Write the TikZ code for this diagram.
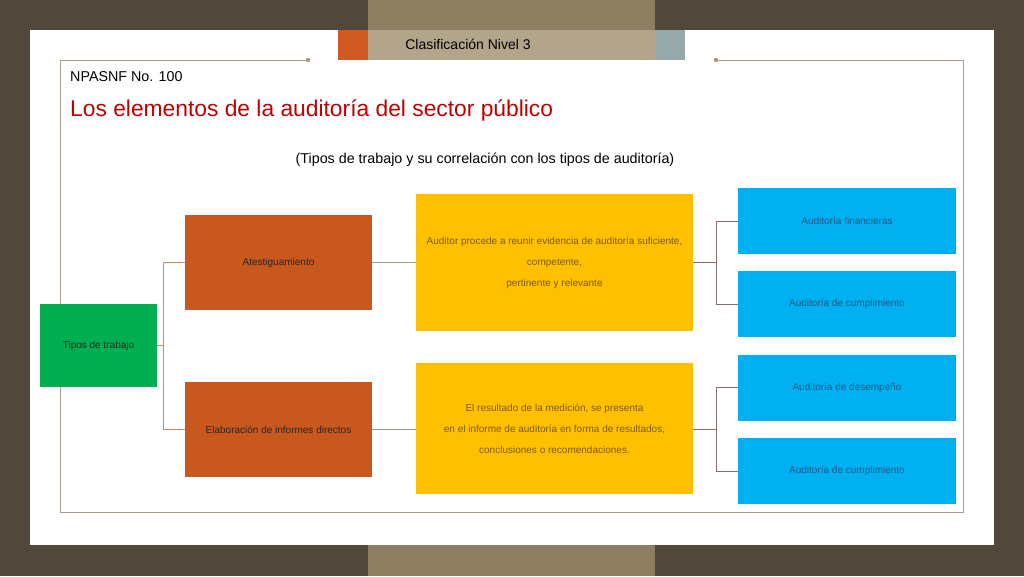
\documentclass[tikz,border=0pt]{standalone}
\usepackage{fontspec}
\setmainfont{Liberation Sans}
\usetikzlibrary{positioning}

\definecolor{darkbrown}{HTML}{51473A}
\definecolor{tanband}{HTML}{8F7F62}
\definecolor{tanlight}{HTML}{B3A58A}
\definecolor{tabgray}{HTML}{95A8AA}
\definecolor{taborange}{HTML}{D05A22}
\definecolor{framegray}{HTML}{A89C88}
\definecolor{titlered}{HTML}{C00000}
\definecolor{boxgreen}{HTML}{00B050}
\definecolor{boxorange}{HTML}{C9581E}
\definecolor{boxyellow}{HTML}{FFC000}
\definecolor{boxblue}{HTML}{00B0F0}
\definecolor{yeltext}{HTML}{7F5A10}
\definecolor{bluetext}{HTML}{1F5A8A}
\definecolor{linkorange}{HTML}{D08A60}
\definecolor{linkgray}{HTML}{A09888}
\definecolor{linkbrown}{HTML}{8B6B6B}

\tikzset{
    box/.style={draw=none, inner sep=2pt, align=center, font=\fontsize{10}{12}\selectfont},
    greenbox/.style={box, fill=boxgreen, minimum width=117pt, minimum height=83pt, text=black!85},
    orangebox/.style={box, fill=boxorange, minimum width=187pt, minimum height=95pt, text=black!85},
    yellowbox/.style={box, fill=boxyellow, minimum width=277pt, font=\fontsize{10}{21}\selectfont, text=yeltext},
    bluebox/.style={box, fill=boxblue, minimum width=218pt, minimum height=66pt, text=bluetext},
}

\begin{document}
\begin{tikzpicture}[x=1pt, y=-1pt]
    % Background and panel
    \fill[darkbrown] (0,0) rectangle (1024,576);
    \useasboundingbox (0,0) rectangle (1024,576);
    \fill[tanband] (368,0) rectangle (655,576);
    \fill[white] (30,30) rectangle (994,545);

    % Header tab
    \fill[taborange] (338,30) rectangle (368,60);
    \fill[tanlight] (368,30) rectangle (655,60);
    \fill[tabgray] (655,30) rectangle (685,60);
    \node (tab) at (468,44) {\fontsize{14}{16}\selectfont Clasificación Nivel 3};

    % Frame
    \draw[framegray, line width=1pt] (308,60) -- (60,60) -- (60,512) -- (963,512) -- (963,60) -- (716,60);
    \fill[framegray] (308,60) circle (2.2) (716,60) circle (2.2);

    % Titles
    \node[anchor=west, inner sep=0pt] (npasnf) at (70,77) {\fontsize{14.3}{16}\selectfont NPASNF No. 100};
    \node[anchor=west, inner sep=0pt, text=titlered] (title) at (70,110) {\fontsize{22.8}{26}\selectfont Los elementos de la auditoría del sector público};
    \node (subtitle) at (485,160) {\fontsize{14.3}{16}\selectfont (Tipos de trabajo y su correlación con los tipos de auditoría)};

    % Boxes
    \node[greenbox] (tipos) at (98.5,345.5) {Tipos de trabajo};
    \node[orangebox] (atest) at (278.5,262.5) {Atestiguamiento};
    \node[orangebox] (elab) at (278.5,429.5) {Elaboración de informes directos};
    \node[yellowbox, minimum height=137pt] (reunir) at (554.5,262.5) {Auditor procede a reunir evidencia de auditoría suficiente,\\ competente,\\ pertinente y relevante};
    \node[yellowbox, minimum height=131pt] (resultado) at (554.5,428.5) {El resultado de la medición, se presenta\\ en el informe de auditoría en forma de resultados,\\ conclusiones o recomendaciones.};
    \node[bluebox] (financ) at (847,221) {Auditoría financieras};
    \node[bluebox] (cumpl1) at (847,304) {Auditoría de cumplimiento};
    \node[bluebox] (desemp) at (847,387.5) {Auditoría de desempeño};
    \node[bluebox] (cumpl2) at (847,471) {Auditoría de cumplimiento};

    % Connectors
    \draw[linkorange] (tipos.east) -- ++(6,0) coordinate (split);
    \draw[linkorange] (split) |- (atest.west);
    \draw[linkorange] (split) |- (elab.west);
    \draw[linkgray] (atest) -- (reunir);
    \draw[linkgray] (elab.east) -- (resultado.west |- elab.east);
    \draw[linkbrown] (reunir.east) -- ++(23,0) coordinate (splitA);
    \draw[linkbrown] (splitA) |- (financ.west);
    \draw[linkbrown] (splitA) |- (cumpl1.west);
    \draw[linkbrown] (resultado.east |- elab.east) -- ++(23,0) coordinate (splitB);
    \draw[linkbrown] (splitB) |- (desemp.west);
    \draw[linkbrown] (splitB) |- (cumpl2.west);
\end{tikzpicture}
\end{document}
